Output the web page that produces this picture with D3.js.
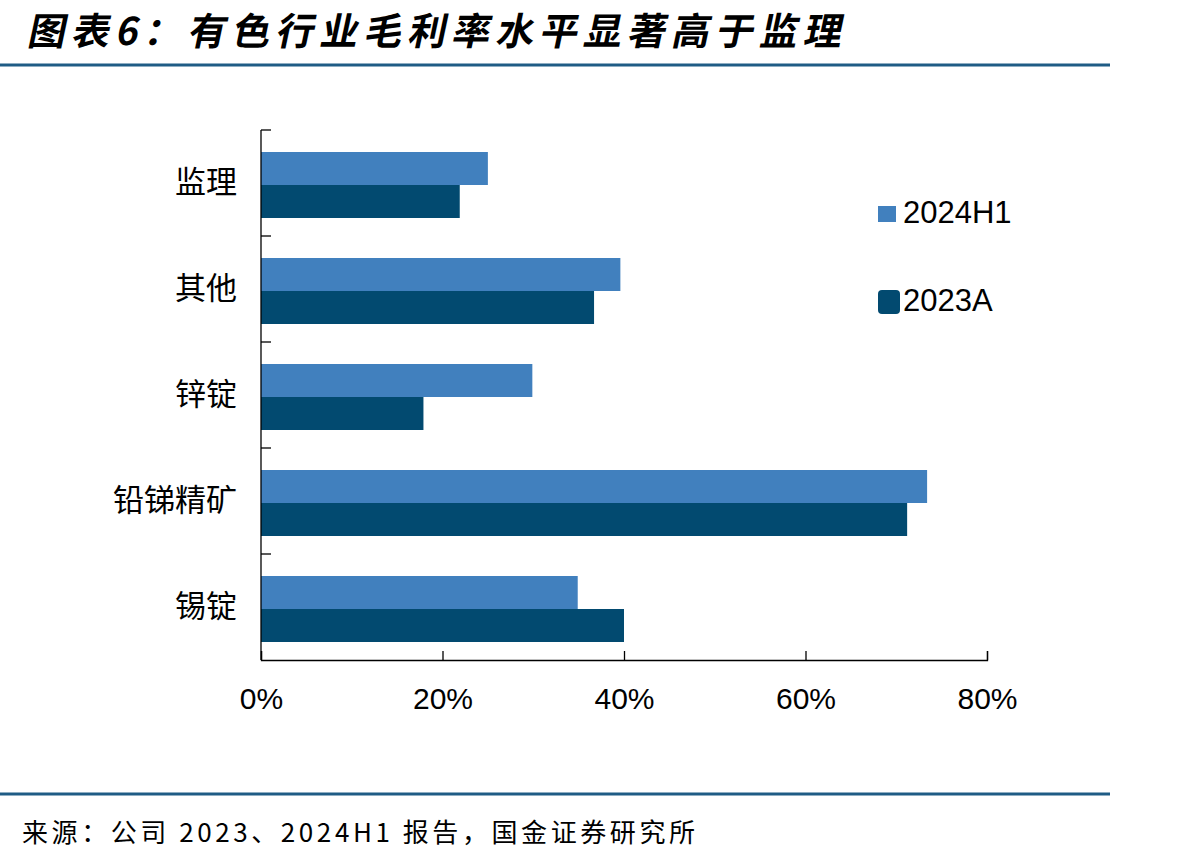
<!DOCTYPE html>
<html>
<head>
<meta charset="utf-8">
<script src="https://cdn.jsdelivr.net/npm/d3@7"></script>
<style>
  body { margin: 0; background: #fff; }
  svg { display: block; }
</style>
</head>
<body>
<script>
// data
const categories = ["监理", "其他", "锌锭", "铅锑精矿", "锡锭"];
const seriesNames = ["2024H1", "2023A"];
const values2024H1 = [25.0, 39.6, 29.9, 73.4, 34.9];
const values2023A = [21.9, 36.7, 17.9, 71.2, 40.0];
const xTicks = [0, 20, 40, 60, 80];

const colors = { "2024H1": "#4180be", "2023A": "#024a70" };
const rows = categories.map((c, i) => ({ cat: c, "2024H1": values2024H1[i], "2023A": values2023A[i] }));

const W = 1198, H = 863;
const margin = { top: 130, left: 261, right: 211, bottom: 203 };
const visW = W - margin.left - margin.right;
const visH = H - margin.top - margin.bottom;

const svg = d3.select("body").append("svg")
  .attr("width", W).attr("height", H);

// title + rules
svg.append("text")
  .attr("x", 20).attr("y", 45)
  .attr("font-family", "'Noto Sans CJK SC', sans-serif")
  .attr("font-size", 38).attr("font-weight", "bold")
  .attr("letter-spacing", 6)
  .attr("transform", "translate(8,0) skewX(-12) translate(8,0)")
  .attr("fill", "#000")
  .text("图表6：有色行业毛利率水平显著高于监理");

svg.append("line").attr("x1", 0).attr("x2", 1110).attr("y1", 65).attr("y2", 65)
  .attr("stroke", "#1f5c85").attr("stroke-width", 3);
svg.append("line").attr("x1", 0).attr("x2", 1110).attr("y1", 794).attr("y2", 794)
  .attr("stroke", "#1f5c85").attr("stroke-width", 3);

const g = svg.append("g").attr("transform", `translate(${margin.left},${margin.top})`);

const x = d3.scaleLinear().domain([0, 80]).range([0, visW]);
const y = d3.scaleBand().domain(categories).range([0, visH]);
const inner = d3.scaleBand().domain(seriesNames).range([22, y.bandwidth() - 18]);

// bars
const groups = g.selectAll(".grp").data(rows).join("g")
  .attr("transform", d => `translate(0,${y(d.cat)})`);
groups.selectAll("rect").data(d => seriesNames.map(s => ({ s, v: d[s] })))
  .join("rect")
  .attr("x", 0)
  .attr("y", d => inner(d.s))
  .attr("width", d => x(d.v))
  .attr("height", inner.bandwidth())
  .attr("fill", d => colors[d.s]);

// axes
const xAxis = d3.axisBottom(x).tickValues(xTicks).tickFormat(d => d + "%").tickSize(-9).tickPadding(28);
g.append("g").attr("transform", `translate(0,${visH})`).call(xAxis)
  .call(a => a.select(".domain").attr("stroke", "#000").attr("stroke-width", 1.3))
  .call(a => a.selectAll(".tick line").attr("stroke", "#000").attr("stroke-width", 1.3))
  .call(a => a.selectAll(".tick text")
    .attr("font-family", "'Liberation Sans Narrow', 'Liberation Sans', sans-serif")
    .attr("font-size", 30).attr("fill", "#000"));

const yLine = g.append("g");
yLine.append("line").attr("x1", 0).attr("x2", 0).attr("y1", 0).attr("y2", visH)
  .attr("stroke", "#000").attr("stroke-width", 1.3);
yLine.selectAll(".yt").data(categories).join("line")
  .attr("x1", 0).attr("x2", 10)
  .attr("y1", d => y(d)).attr("y2", d => y(d))
  .attr("stroke", "#000").attr("stroke-width", 1.3);

g.selectAll(".ylab").data(categories).join("text")
  .attr("x", -24)
  .attr("y", d => y(d) + y.bandwidth() / 2 + 2)
  .attr("text-anchor", "end")
  .attr("dominant-baseline", "middle")
  .attr("font-family", "'Noto Sans CJK SC', sans-serif")
  .attr("font-size", 31).attr("fill", "#000")
  .text(d => d);

// legend
const legend = svg.append("g").attr("transform", "translate(878,0)");
const legY = { "2024H1": 214, "2023A": 302 };
const legBox = { "2024H1": [18, 16, 0], "2023A": [22, 24, 4] };
seriesNames.forEach(s => {
  const [bw, bh, r] = legBox[s];
  legend.append("rect").attr("x", 0).attr("y", legY[s] - bh / 2).attr("width", bw).attr("height", bh)
    .attr("rx", r)
    .attr("fill", colors[s]);
  legend.append("text").attr("x", 25).attr("y", legY[s] + 1)
    .attr("dominant-baseline", "middle")
    .attr("font-family", "'Liberation Sans', Arial, sans-serif")
    .attr("font-size", 31).attr("fill", "#000")
    .text(s);
});

// source
svg.append("text")
  .attr("x", 22).attr("y", 842)
  .attr("font-family", "'Noto Sans CJK SC', sans-serif")
  .attr("font-size", 26).attr("fill", "#000")
  .attr("textLength", 673).attr("lengthAdjust", "spacing")
  .text("来源：公司 2023、2024H1 报告，国金证券研究所");
</script>
</body>
</html>
